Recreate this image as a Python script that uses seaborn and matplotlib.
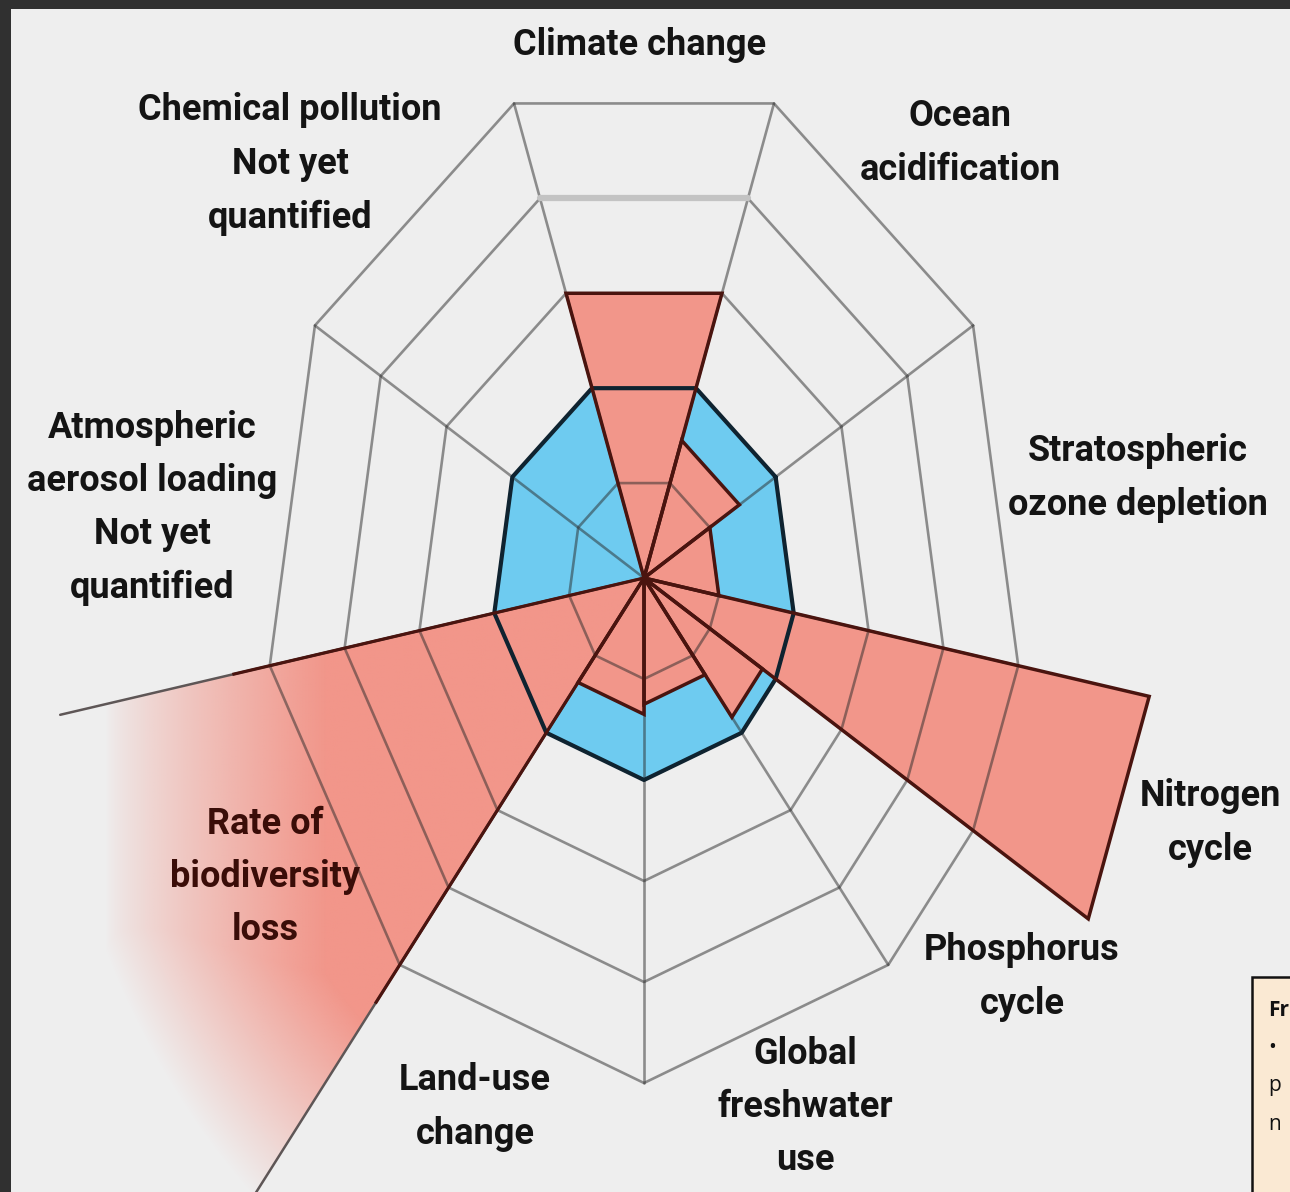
import numpy as np
import matplotlib

matplotlib.use("Agg")
import matplotlib.pyplot as plt
from matplotlib.patches import Polygon, Rectangle
import seaborn as sns

# ---- data -------------------------------------------------------------
BOUNDARIES = [
    "Climate change",
    "Ocean acidification",
    "Stratospheric ozone depletion",
    "Nitrogen cycle",
    "Phosphorus cycle",
    "Global freshwater use",
    "Land-use change",
    "Rate of biodiversity loss",
    "Atmospheric aerosol loading",
    "Chemical pollution",
]
# wedge edges in degrees (counter-clockwise from east)
WEDGE_FROM = [70, 30, -10, -30, -50, -90, -130, -170, 150, 110]
WEDGE_TO = [110, 70, 30, -10, -30, -50, -90, -130, 190, 150]
# current status, outer ring = 1.0 (NaN = not yet quantified)
STATUS = [0.60, 0.29, 0.20, 1.35, 0.36, 0.25, 0.27, 2.5, np.nan, np.nan]
SAFE_LIMIT = 0.4
RINGS = [0.2, 0.4, 0.6, 0.8, 1.0]

LABELS = [
    "Climate change",
    "Ocean\nacidification",
    "Stratospheric\nozone depletion",
    "Nitrogen\ncycle",
    "Phosphorus\ncycle",
    "Global\nfreshwater\nuse",
    "Land-use\nchange",
    "Rate of\nbiodiversity\nloss",
    "Atmospheric\naerosol loading\nNot yet\nquantified",
    "Chemical pollution\nNot yet\nquantified",
]
NOTE_LINES = ["Fr", "\u2022", "p", "n"]

# ---- layout (pixels of the output image) -----------------------------
W, H = 1290, 1192
CX, CY = 644, 578
RX, RY = 380, 505
LABEL_XY = [
    (640, 45), (960, 143), (1138, 478), (1210, 823), (1022, 977),
    (805, 1107), (475, 1107), (265, 877), (152, 508), (290, 164),
]
NOTE_XY = [(1268, 1010), (1268, 1048), (1268, 1086), (1268, 1125)]

RED = "#f2968a"
RED_EDGE = "#4a140f"
BLUE = "#6ecbf0"
BLUE_EDGE = "#0f2330"
GRID = "#2a2a2a"
LABEL_FONT = ["Roboto", "DejaVu Sans"]


def px(x, y):
    return (x - CX) / RX, (CY - y) / RY


def polar(r, deg):
    a = np.deg2rad(deg)
    return r * np.cos(a), r * np.sin(a)


sns.set_theme(style="white")
plt.rcParams["font.family"] = LABEL_FONT

fig = plt.figure(figsize=(W / 100, H / 100), dpi=100, facecolor="#303030")
ax = fig.add_axes([11 / W, 0, (W - 11) / W, (H - 9) / H])
ax.set_facecolor("#eeeeee")
for s in ax.spines.values():
    s.set_visible(False)
ax.set_xticks([])
ax.set_yticks([])

spokes = sorted(set(a % 360 for a in WEDGE_FROM + WEDGE_TO))

# safe operating space
safe = np.array([polar(SAFE_LIMIT, a) for a in spokes])
ax.add_patch(Polygon(safe, closed=True, facecolor=BLUE, edgecolor="none", zorder=2))

x0, x1 = (11 - CX) / RX, (W - CX) / RX
y0, y1 = (CY - H) / RY, (CY - 9) / RY

# status wedges
for name, a0, a1, val in zip(BOUNDARIES, WEDGE_FROM, WEDGE_TO, STATUS):
    if np.isnan(val):
        continue
    pts = np.array([(0, 0), polar(val, a0), polar(val, a1)])
    if name == "Rate of biodiversity loss":
        # open-ended wedge, fading out beyond the outer ring
        clip = Polygon(pts, closed=True, facecolor="none", edgecolor="none")
        ax.add_patch(clip)
        gx, gy = np.meshgrid(np.linspace(x0, x1, 700), np.linspace(y0, y1, 650))
        rr = np.hypot(gx, gy)
        xpix = gx * RX + CX
        alpha = np.minimum(np.clip((xpix - 105) / 220, 0, 1) ** 0.8,
                           np.clip((1.6 - rr) / 0.45, 0, 1))
        rgba = np.zeros(gx.shape + (4,))
        rgba[..., :3] = matplotlib.colors.to_rgb(RED)
        rgba[..., 3] = alpha
        im = ax.imshow(rgba, extent=(x0, x1, y0, y1), origin="lower",
                       aspect="auto", zorder=3, interpolation="bilinear")
        im.set_clip_path(clip)
        for a, reach in ((a0, 1.56), (a1, 2.5)):
            e = np.array([(0, 0), polar(reach, a)])
            ax.plot(e[:, 0], e[:, 1], color="#5e5656", lw=1.8, zorder=5)
            e = np.array([(0, 0), polar(1.1, a)])
            ax.plot(e[:, 0], e[:, 1], color=RED_EDGE, lw=2.3, zorder=6,
                    solid_capstyle="butt")
    else:
        ax.add_patch(Polygon(pts, closed=True, facecolor=RED, edgecolor="none",
                             zorder=3))
        ax.add_patch(Polygon(pts, closed=True, facecolor="none", edgecolor=RED_EDGE,
                             lw=2.5, joinstyle="miter", zorder=6))

# web grid
for r in RINGS:
    ring = np.array([polar(r, a) for a in spokes + [spokes[0]]])
    ax.plot(ring[:, 0], ring[:, 1], color=GRID, alpha=0.5, lw=1.9, zorder=4)
for a in spokes:
    e = np.array([(0, 0), polar(1.0, a)])
    ax.plot(e[:, 0], e[:, 1], color=GRID, alpha=0.5, lw=1.9, zorder=4)

# climate change uncertainty line
seg = np.array([polar(0.8, 70), polar(0.8, 110)])
ax.plot(seg[:, 0], seg[:, 1], color="#c3c3c3", lw=4.5, zorder=4.5)

safe_closed = np.vstack([safe, safe[:1]])
ax.plot(safe_closed[:, 0], safe_closed[:, 1], color=BLUE_EDGE, lw=3.0, zorder=5)

# labels
for name, text, (x, y) in zip(BOUNDARIES, LABELS, LABEL_XY):
    color = "#3a0d08" if name == "Rate of biodiversity loss" else "#141414"
    ax.text(*px(x, y), text, ha="center", va="center", fontsize=26,
            fontweight="bold", color=color, linespacing=1.62, zorder=8)

# cropped note box
bx, by = px(1252, 1200)
ax.add_patch(Rectangle((bx, by), 60 / RX, (1200 - 977) / RY, facecolor="#fae9d3",
                       edgecolor="#111111", lw=1.8, zorder=7))
for i, (t, (x, y)) in enumerate(zip(NOTE_LINES, NOTE_XY)):
    ax.text(*px(x, y), t, ha="left", va="center", fontsize=15,
            fontweight="bold" if i == 0 else "normal", color="#111111",
            family=["Open Sans", "DejaVu Sans"], zorder=8)

ax.set_xlim(x0, x1)
ax.set_ylim(y0, y1)

fig.savefig("out.png", dpi=100, facecolor=fig.get_facecolor())
